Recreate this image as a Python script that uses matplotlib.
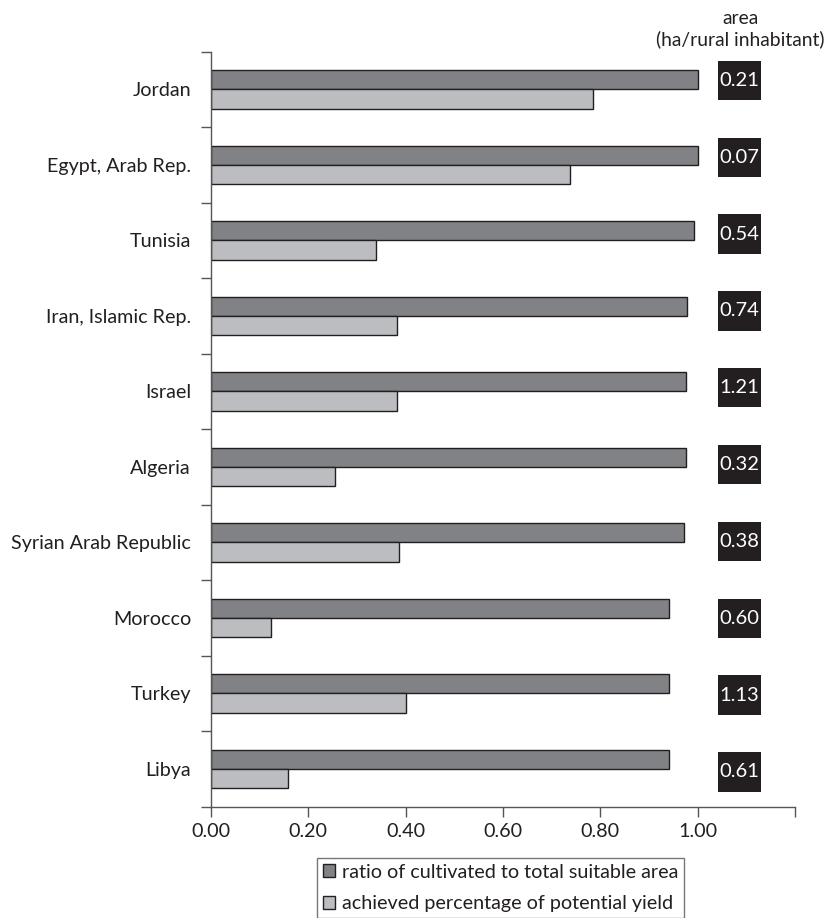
import numpy as np
import matplotlib
matplotlib.use("Agg")
import matplotlib.pyplot as plt
from matplotlib.patches import Rectangle

plt.rcParams['font.family'] = ['Lato', 'DejaVu Sans']

countries = ["Jordan", "Egypt, Arab Rep.", "Tunisia", "Iran, Islamic Rep.", "Israel",
             "Algeria", "Syrian Arab Republic", "Morocco", "Turkey", "Libya"]
ratio_cultivated = [1.00, 1.00, 0.993, 0.979, 0.976, 0.976, 0.972, 0.941, 0.941, 0.941]
achieved_yield = [0.784, 0.737, 0.340, 0.383, 0.383, 0.255, 0.387, 0.123, 0.401, 0.159]
area_labels = ["0.21", "0.07", "0.54", "0.74", "1.21", "0.32", "0.38", "0.60", "1.13", "0.61"]
xtick_vals = [0.0, 0.2, 0.4, 0.6, 0.8, 1.0, 1.2]
xtick_labels = ["0.00", "0.20", "0.40", "0.60", "0.80", "1.00", ""]
series_names = ["ratio of cultivated to total suitable area",
                "achieved percentage of potential yield"]

W, H = 830, 918
fig = plt.figure(figsize=(W / 100, H / 100), dpi=100)
ax_left, ax_right, ax_top, ax_bottom = 211, 795, 51.7, 806.7
ax = fig.add_axes([ax_left / W, 1 - ax_bottom / H, (ax_right - ax_left) / W, (ax_bottom - ax_top) / H])

dark = "#818285"
light = "#bcbdc0"
edge = "#231f20"
fs = 14.2
n = len(countries)
y = np.arange(n)
bh = 0.255
ax.barh(y - bh / 2, ratio_cultivated, height=bh, color=dark, edgecolor=edge, linewidth=1.0,
        label=series_names[0])
ax.barh(y + bh / 2, achieved_yield, height=bh, color=light, edgecolor=edge, linewidth=1.0,
        label=series_names[1])

ax.set_xlim(0, 1.2)
ax.set_ylim(n - 0.5, -0.5)

# boxes with area values
box_cx = 1.086
box_w = 43 / 487
box_h = 39.3 / 75.5
step = 76.83 / 75.5
box_cy = -0.119 + np.arange(n) * step
for cy, lab in zip(box_cy, area_labels):
    ax.add_patch(Rectangle((box_cx - box_w / 2, cy - box_h / 2), box_w, box_h,
                           facecolor=edge, edgecolor='none', clip_on=False, zorder=3))
    ax.text(box_cx, cy, lab, color='white', ha='center', va='center', fontsize=14.5, zorder=4)

for s in ['top', 'right']:
    ax.spines[s].set_visible(False)
for s in ['left', 'bottom']:
    ax.spines[s].set_color('#555555')
    ax.spines[s].set_linewidth(1.0)

ax.set_xticks(xtick_vals)
ax.set_xticklabels(xtick_labels, fontsize=fs, color='#231f20')
ax.tick_params(axis='x', direction='out', length=7, width=1.0, color='#555555', pad=5)

ax.set_yticks(np.arange(n + 1) - 0.5)
ax.set_yticklabels([])
ax.tick_params(axis='y', which='major', direction='out', length=7, width=1.0, color='#555555')
ax.set_yticks(y, minor=True)
ax.set_yticklabels(countries, minor=True, fontsize=fs, color='#231f20')
ax.tick_params(axis='y', which='minor', length=0, pad=14.4)

fig.text(740 / W, 1 - 29 / H, "area\n(ha/rural inhabitant)", ha='center', va='center',
         fontsize=13.9, color='#231f20', linespacing=1.2)

leg = fig.legend(loc='upper left', bbox_to_anchor=(317 / W, 1 - 857.7 / H), fontsize=fs,
                 frameon=True, fancybox=False, handlelength=0.62, handleheight=0.62,
                 handletextpad=0.35, labelspacing=0.74, borderpad=0.3, borderaxespad=0)
leg.get_frame().set_edgecolor('#555555')
leg.get_frame().set_linewidth(1.0)
for t in leg.get_texts():
    t.set_color('#231f20')

fig.savefig("out.png", dpi=100)
